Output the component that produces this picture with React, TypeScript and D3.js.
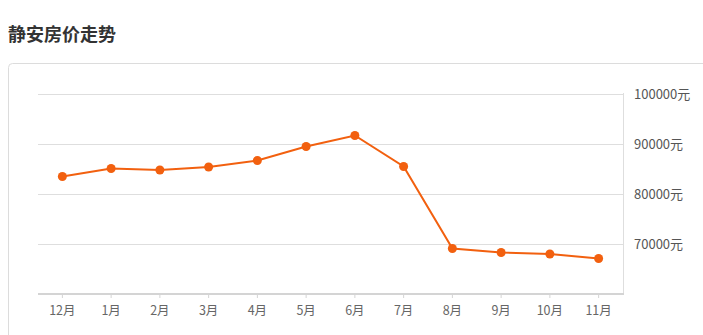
import React from "react";
import * as d3 from "d3";

const title = "静安房价走势";
const months = ["12月", "1月", "2月", "3月", "4月", "5月", "6月", "7月", "8月", "9月", "10月", "11月"];
const prices = [83500, 85100, 84800, 85400, 86700, 89500, 91700, 85500, 69100, 68300, 68000, 67100];
const yTicks = [70000, 80000, 90000, 100000];
const unit = "元";

const W = 703;
const H = 335;
const FONT = "'Noto Sans CJK SC', 'Noto Sans', sans-serif";

export default function App() {
  const left = 38;
  const right = 623;
  const top = 94;
  const bottom = 294;
  const x = d3.scaleBand<string>().domain(months).range([left, right]);
  const cx = (m: string) => (x(m) as number) + x.bandwidth() / 2;
  const y = d3.scaleLinear().domain([60000, 100000]).range([bottom, top]);
  const line = d3
    .line<number>()
    .x((_, i) => cx(months[i]))
    .y((d) => y(d));
  const color = "#f2600f";

  return (
    <svg
      width={W}
      height={H}
      style={{ position: "absolute", left: 0, top: 0, background: "#fff" }}
      fontFamily={FONT}
    >
      <text x={8} y={41} fontSize={18} fontWeight="bold" fill="#333">
        {title}
      </text>
      <rect x={8.5} y={63.5} width={720} height={300} rx={4} fill="#fff" stroke="#dcdcdc" />
      {yTicks.map((t) => (
        <g key={t}>
          <line x1={left} x2={right} y1={Math.round(y(t)) + 0.5} y2={Math.round(y(t)) + 0.5} stroke="#dedede" />
          <text x={634} y={y(t)} dy="0.35em" fontSize={13} fill="#555">
            {t + unit}
          </text>
        </g>
      ))}
      <line x1={right + 0.5} x2={right + 0.5} y1={top - 1} y2={bottom} stroke="#dedede" />
      <line x1={left} x2={right + 1} y1={bottom} y2={bottom} stroke="#d4d4d4" strokeWidth={2} />
      {months.map((m) => (
        <g key={m}>
          <line x1={cx(m)} x2={cx(m)} y1={bottom} y2={bottom + 4} stroke="#d4d4d4" />
          <text x={cx(m)} y={311} dy="0.35em" textAnchor="middle" fontSize={12.5} fill="#666">
            {m}
          </text>
        </g>
      ))}
      <path d={line(prices) || ""} fill="none" stroke={color} strokeWidth={2} />
      {prices.map((p, i) => (
        <circle key={i} cx={cx(months[i])} cy={y(p)} r={4.5} fill={color} />
      ))}
    </svg>
  );
}
